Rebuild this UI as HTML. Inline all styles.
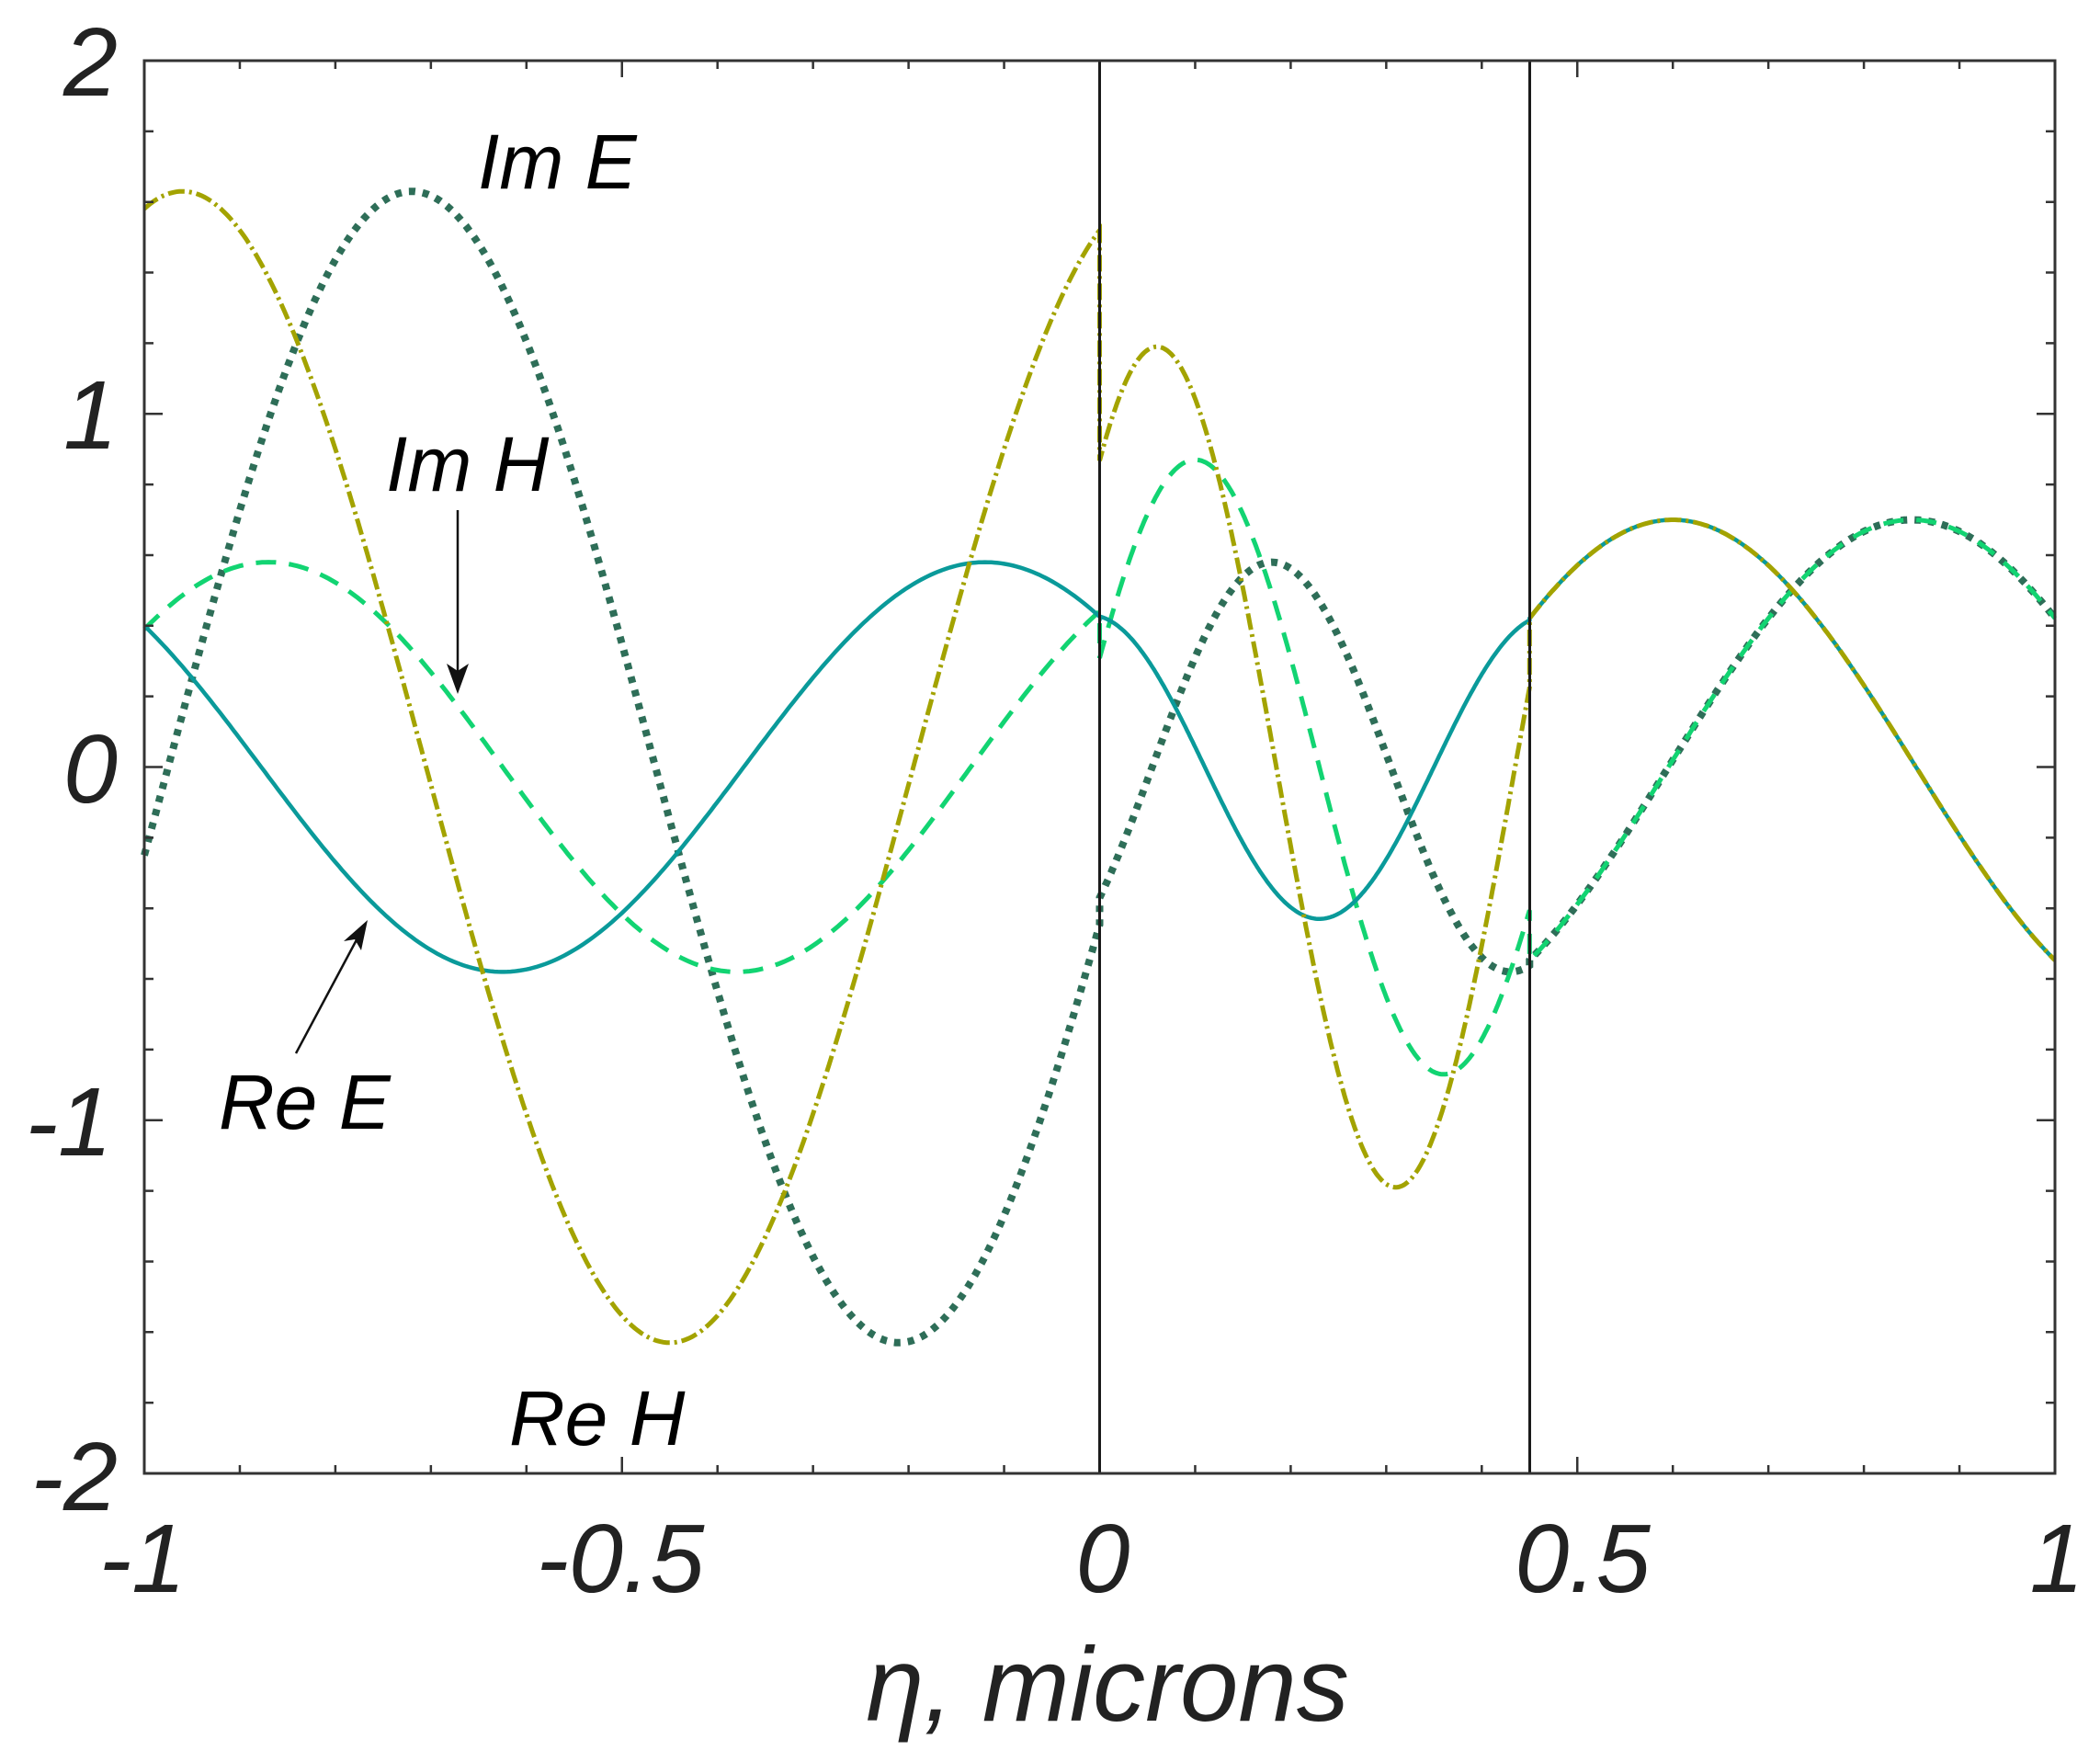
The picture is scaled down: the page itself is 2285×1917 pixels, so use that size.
<!DOCTYPE html>
<html><head><meta charset="utf-8"><style>
html,body{margin:0;padding:0;background:#fff}
svg{display:block}
text{font-family:"Liberation Sans",sans-serif;font-style:italic;fill:#222}
</style></head><body>
<svg id="s" width="2285" height="1917" viewBox="0 0 2285 1917" xmlns="http://www.w3.org/2000/svg">
<g id="curves"></g>
<g id="axes"></g>
<line x1="1196.5" y1="66" x2="1196.5" y2="1603" stroke="#1a1a1a" stroke-width="3"/>
<line x1="1664.5" y1="66" x2="1664.5" y2="1603" stroke="#1a1a1a" stroke-width="3"/>
<rect x="157" y="66" width="2079" height="1537" fill="none" stroke="#333" stroke-width="3"/>
<g font-size="106" text-anchor="end">
<text x="128" y="104">2</text>
<text x="128" y="488">1</text>
<text x="128" y="873">0</text>
<text x="122" y="1257">-1</text>
<text x="128" y="1643">-2</text>
</g>
<g font-size="106" text-anchor="middle">
<text x="155" y="1732">-1</text>
<text x="675" y="1732">-0.5</text>
<text x="1200" y="1732">0</text>
<text x="1722" y="1732">0.5</text>
<text x="2238" y="1732">1</text>
</g>
<text x="1205" y="1872" font-size="114" text-anchor="middle">η, microns</text>
<g font-size="84" fill="#000">
<text x="520" y="205" style="fill:#000">Im E</text>
<text x="420" y="534" style="fill:#000">Im H</text>
<text x="238" y="1228" style="fill:#000">Re E</text>
<text x="554" y="1572" style="fill:#000">Re H</text>
</g>
<g stroke="#111" stroke-width="2.5" fill="#111">
<line x1="498" y1="555" x2="498" y2="735"/>
<polygon points="498,755 486,722 498,730 510,722" stroke="none"/>
<line x1="322" y1="1146" x2="392" y2="1015"/>
<polygon points="400,1001 374,1024 386,1022 393,1034" stroke="none"/>
</g>
</svg>
<script>
var X=function(v){return 1196.5+v*1039.5}, Y=function(v){return 834.5-v*384.25};
function seg(f,a,b){var d='';var n=300;for(var i=0;i<=n;i++){var x=a+(b-a)*i/n;d+=(i?'L':'M')+X(x).toFixed(1)+','+Y(f(x)).toFixed(1);}return d;}
function P(fs){
 var d='';var a=[-1,0,0.45,1];
 for(var k=0;k<3;k++){var s=seg(fs[k],a[k],a[k+1]); if(k>0) s='L'+s.slice(1); d+=s;}
 return d;}
var c=Math.cos;
var ReE=[x=>0.58*c(6.22*(x+0.12)), x=>-0.43*c(13.1*(x-0.23)), x=>0.7*c(6.17*(x-0.6))];
var ImH=[x=>0.58*c(6.41*(x+0.87)), x=>0.87*c(12.08*(x-0.1)), x=>0.7*c(6.17*(x-0.85))];
var ReH=[x=>1.63*c(6.16*(x+0.96)), x=>1.19*c(12.57*(x-0.06)), x=>0.7*c(6.17*(x-0.6))];
var ImE=[x=>1.63*c(6.16*(x+0.72)), x=>0.58*c(12.57*(x-0.18)), x=>0.7*c(6.17*(x-0.85))];
var g=document.getElementById('curves');
function add(d,col,w,dash,cap){var p=document.createElementNS('http://www.w3.org/2000/svg','path');p.setAttribute('d',d);p.setAttribute('fill','none');p.setAttribute('stroke',col);p.setAttribute('stroke-width',w);if(dash)p.setAttribute('stroke-dasharray',dash);if(cap)p.setAttribute('stroke-linecap',cap);g.appendChild(p);}
add(P(ImE),'#2e6e58',8,'7,8');
add(P(ImH),'#12d472',5,'22,14');
add(P(ReE),'#0a9a9a',4.5,null);
add(P(ReH),'#a3a300',5,'18,5,3,5');
var ax=document.getElementById('axes');var t='';
for(var i=0;i<=20;i++){var x=X(-1+i*0.1);var L=(i%5==0)?18:9;t+='M'+x+',1603v-'+L+'M'+x+',66v'+L;}
for(var j=0;j<=20;j++){var y=Y(-2+j*0.2);var L=(j%5==0)?20:10;t+='M157,'+y+'h'+L+'M2236,'+y+'h-'+L;}
var p=document.createElementNS('http://www.w3.org/2000/svg','path');p.setAttribute('d',t);p.setAttribute('stroke','#333');p.setAttribute('stroke-width','2.5');ax.appendChild(p);
</script>
</body></html>
